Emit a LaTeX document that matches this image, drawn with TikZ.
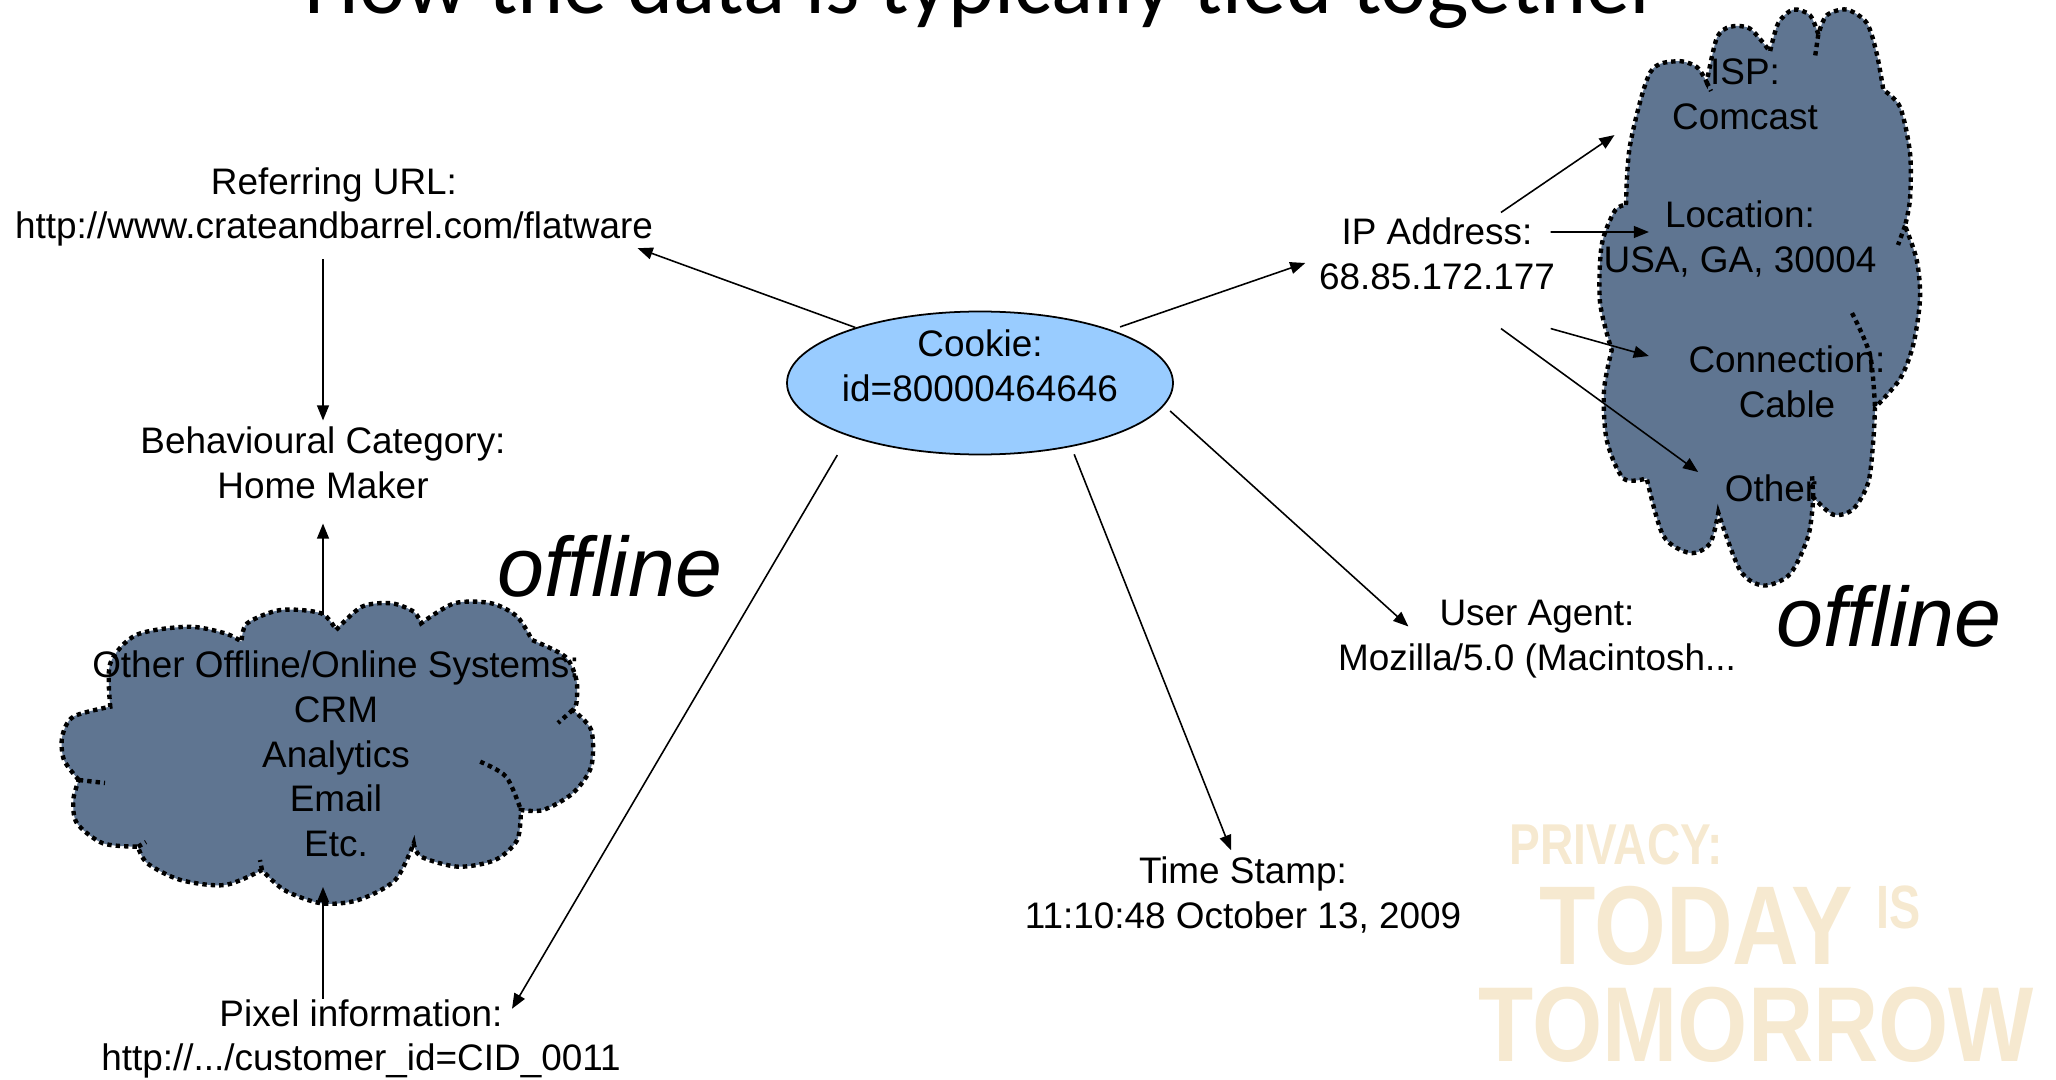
\documentclass[tikz,border=0pt]{standalone}
\usepackage{fontspec}
\usepackage{graphicx}
\setmainfont{Liberation Sans}
\newfontfamily\titlefont{Carlito}
\usetikzlibrary{shapes.geometric,arrows.meta}

\definecolor{cookieblue}{RGB}{153,204,255}
\definecolor{cloudblue}{RGB}{95,117,145}
\definecolor{stampbeige}{RGB}{246,233,208}

\begin{document}
\begin{tikzpicture}[
  txt node/.style={align=center,inner sep=0pt,font=\fontsize{10.5}{12.7}\selectfont},
  cookie node/.style={ellipse,draw,fill=cookieblue,line width=0.5pt,
    minimum width=3.86cm,minimum height=1.43cm,inner sep=0pt},
  cloud line/.style={draw,line width=1.25pt,dash pattern=on 1.25pt off 1.15pt},
  big word/.style={inner sep=0pt,font=\fontsize{24}{28}\selectfont\itshape},
  stamp word/.style={anchor=base west,inner sep=0pt,text=stampbeige,font=\bfseries},
  arr/.style={-{Triangle[length=4.3pt,width=3.4pt]},line width=0.45pt}]

  \useasboundingbox (0,0) rectangle (20.56,-10.80);
  \clip (0,0) rectangle (20.56,-10.80);

  % title (top is cut off)
  \node[anchor=base,inner sep=0pt,font=\titlefont\fontsize{25}{30}\selectfont] (title) at (9.83,-0.14)
    {How the data is typically tied together};

  % watermark
  \node[stamp word] (privacy) at (15.09,-8.64) {\fontsize{16.4}{18}\selectfont\scalebox{0.80}[1]{PRIVACY:}};
  \node[stamp word] (today) at (15.39,-9.64) {\fontsize{31.9}{34}\selectfont\scalebox{0.823}[1]{TODAY}};
  \node[stamp word] (is) at (18.76,-9.28) {\fontsize{17.4}{19}\selectfont\scalebox{0.765}[1]{IS}};
  \node[stamp word] (tomorrow) at (14.78,-10.61) {\fontsize{30.3}{33}\selectfont\scalebox{0.848}[1]{TOMORROW}};

  % left cloud, one puff after the other
  \path[cloud line,fill=cloudblue]
    plot[smooth] coordinates {(0.788,-7.80) (0.64,-7.60) (0.622,-7.367) (0.733,-7.167) (1.103,-7.067)}
    -- plot[smooth] coordinates {(1.103,-7.067) (1.103,-6.633) (1.362,-6.35) (1.88,-6.267) (2.25,-6.333) (2.416,-6.417)}
    -- plot[smooth] coordinates {(2.416,-6.417) (2.472,-6.233) (2.805,-6.10) (3.212,-6.133) (3.36,-6.30)}
    -- plot[smooth] coordinates {(3.36,-6.30) (3.619,-6.067) (3.915,-6.033) (4.137,-6.117) (4.211,-6.233)}
    -- plot[smooth] coordinates {(4.211,-6.233) (4.544,-6.033) (4.914,-6.033) (5.172,-6.167) (5.32,-6.40)}
    -- plot[smooth] coordinates {(5.32,-6.40) (5.653,-6.567) (5.764,-6.80) (5.764,-7.033) (5.727,-7.10)}
    -- plot[smooth] coordinates {(5.727,-7.10) (5.912,-7.30) (5.912,-7.667) (5.727,-7.933) (5.431,-8.10) (5.209,-8.10)}
    -- plot[smooth] coordinates {(5.209,-8.10) (5.172,-8.40) (4.95,-8.60) (4.581,-8.667) (4.211,-8.567) (4.137,-8.433)}
    -- plot[smooth] coordinates {(4.137,-8.433) (3.952,-8.80) (3.582,-9.00) (3.212,-9.033) (2.842,-8.90) (2.62,-8.70)}
    -- plot[smooth] coordinates {(2.62,-8.70) (2.25,-8.85) (1.806,-8.80) (1.473,-8.633) (1.38,-8.467)}
    -- plot[smooth] coordinates {(1.38,-8.467) (1.029,-8.433) (0.77,-8.233) (0.733,-8.00) (0.788,-7.80)}
    -- cycle;
  \path[cloud line] plot[smooth] coordinates {(4.802,-7.617) (5.061,-7.767) (5.209,-8.10)};
  \path[cloud line] (0.788,-7.80) -- (1.05,-7.83) (5.727,-7.10) -- (5.58,-7.23)
    (2.62,-8.70) -- (2.60,-8.60) (1.38,-8.467) -- (1.46,-8.42);
  \coordinate (offtop) at (3.23,-6.15);
  \coordinate (offbot) at (3.23,-8.87);

  % right cloud
  \path[cloud line,fill=cloudblue]
    plot[smooth] coordinates {(16.26,-2.05) (16.30,-1.454) (16.50,-0.727) (16.767,-0.612) (16.967,-0.67) (17.067,-0.823)}
    -- plot[smooth] coordinates {(17.067,-0.823) (17.167,-0.383) (17.30,-0.268) (17.50,-0.287) (17.70,-0.517)}
    -- plot[smooth] coordinates {(17.70,-0.517) (17.783,-0.23) (17.933,-0.096) (18.10,-0.153) (18.183,-0.344)}
    -- plot[smooth] coordinates {(18.183,-0.344) (18.267,-0.153) (18.467,-0.096) (18.667,-0.23) (18.767,-0.536) (18.833,-0.90)}
    -- plot[smooth] coordinates {(18.833,-0.90) (19.0,-1.07) (19.10,-1.53) (19.10,-1.99) (19.05,-2.258)}
    -- plot[smooth] coordinates {(19.05,-2.258) (19.167,-2.60) (19.20,-2.985) (19.133,-3.444) (19.0,-3.789) (18.75,-4.076)}
    -- plot[smooth] coordinates {(18.75,-4.076) (18.733,-4.40) (18.683,-4.822) (18.533,-5.09) (18.333,-5.147) (18.133,-4.975)}
    -- plot[smooth] coordinates {(18.133,-4.975) (18.083,-5.358) (17.90,-5.74) (17.633,-5.855) (17.40,-5.702) (17.183,-5.128)}
    -- plot[smooth] coordinates {(17.183,-5.128) (17.10,-5.434) (16.90,-5.53) (16.633,-5.358) (16.467,-4.784)}
    -- plot[smooth] coordinates {(16.467,-4.784) (16.233,-4.784) (16.067,-4.401) (16.04,-3.904) (16.117,-3.502)}
    -- plot[smooth] coordinates {(16.117,-3.502) (16.0,-3.023) (16.017,-2.449) (16.15,-2.105) (16.26,-2.05)}
    -- cycle;
  \path[cloud line] plot[smooth] coordinates {(18.52,-3.13) (18.70,-3.55) (18.75,-4.076)};
  \path[cloud line] (17.067,-0.823) -- (17.11,-0.91) (18.183,-0.344) -- (18.15,-0.57)
    (19.05,-2.258) -- (18.98,-2.45) (18.133,-4.975) -- (18.12,-4.75);

  % cookie
  \node[cookie node] (cookie) at (9.80,-3.83) {};
  \node[txt node] (cookietxt) at (9.80,-3.66) {Cookie:\\id=80000464646};

  % left side
  \node[txt node] (refurl) at (3.34,-2.07) {Referring URL:\\http://www.crateandbarrel.com/flatware};
  \node[txt node] (behav) at (3.23,-4.63) {Behavioural Category:\\Home Maker};
  \node[txt node] (offsys) at (3.36,-7.54) {Other Offline/Online Systems:\\CRM\\Analytics\\Email\\Etc.};
  \node[txt node] (pix) at (3.61,-10.39) {Pixel information:\\http://.../customer\_id=CID\_0011};
  \node[big word] (offline1) at (6.10,-5.66) {offline};

  % bottom and right side
  \node[txt node] (ts) at (12.43,-8.95) {Time Stamp:\\11:10:48 October 13, 2009};
  \node[txt node] (ua) at (15.37,-6.39) {User Agent:\\Mozilla/5.0 (Macintosh...};
  \node[txt node] (ip) at (14.37,-2.54) {IP Address:\\68.85.172.177};
  \node[big word] (offline2) at (18.89,-6.16) {offline};

  % inside the right cloud
  \node[txt node] (isp) at (17.45,-0.94) {ISP:\\Comcast};
  \node[txt node] (loc) at (17.40,-2.39) {Location:\\USA, GA, 30004};
  \node[txt node] (conn) at (17.87,-3.82) {Connection:\\Cable};
  \node[txt node] (oth) at (17.71,-4.88) {Other};

  \path[arr]
    (cookie.156.5) edge ([shift={(-0.16,-0.01)}]refurl.south east)
    (cookie.22) edge[shorten <=0.9mm] ([shift={(-0.13,-0.09)}]ip.west)
    (cookie.-7) edge[shorten <=0.8mm] ([shift={(0.71,-0.27)}]ua.north west)
    (cookie.-35) edge[shorten <=0.8mm] ([shift={(-0.12,0.06)}]ts.north)
    (cookie.202) edge[shorten <=2.2mm] ([shift={(1.51,-0.10)}]pix.north);

  \path[arr]
    (refurl.south -| behav.north) edge[shorten <=1.2mm,shorten >=0.6mm] (behav.north)
    (offtop) edge[shorten >=2.4mm] (offtop |- behav.south)
    (pix.north -| offbot) edge (offbot);

  \path[arr]
    ([shift={(0.64,0.05)}]ip.north) edge ([shift={(-0.57,-0.05)}]isp.south west)
    ([shift={(-0.05,0.22)}]ip.east) edge ([shift={(0.46,0.07)}]loc.west)
    ([shift={(-0.05,-0.38)}]ip.south east) edge ([shift={(-0.39,0.26)}]conn.west)
    ([shift={(0.64,-0.38)}]ip.south) edge ([shift={(-0.26,0.16)}]oth.west);
\end{tikzpicture}
\end{document}
